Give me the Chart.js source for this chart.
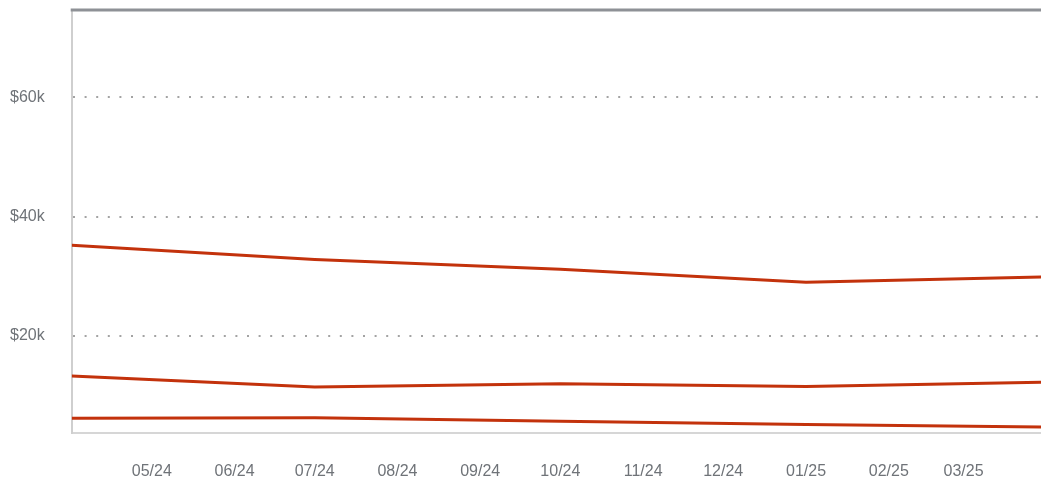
<!DOCTYPE html>
<html lang="en">
<head>
    <meta charset="UTF-8">
    <title>Quarterly values</title>
    <script src="https://cdn.jsdelivr.net/npm/chart.js"></script>
    <style>
        body { margin: 0; background: #fff; }
        #wrap { width: 1041px; height: 481px; }
    </style>
</head>
<body>
    <div id="wrap"><canvas id="lineChart" width="1041" height="481"></canvas></div>

    <script>
        // quarterly points (last one sits just past the visible edge)
        const dates = ['2024-04-01', '2024-07-01', '2024-10-01', '2025-01-01', '2025-04-01'];
        const seriesA = [35200, 32800, 31200, 29000, 29900];
        const seriesB = [13300, 11450, 12000, 11550, 12300];
        const seriesC = [6250, 6300, 5750, 5200, 4750];

        const xTicks = ['2024-05-01', '2024-06-01', '2024-07-01', '2024-08-01', '2024-09-01', '2024-10-01',
                        '2024-11-01', '2024-12-01', '2025-01-01', '2025-02-01', '2025-03-01'];
        const yTicks = [20000, 40000, 60000];

        const xMin = '2024-04-01';
        const xMax = '2025-03-30';
        const yMin = 3800;
        const yMax = 74600;

        function dayNum(s) {
            const p = s.split('-');
            return Date.UTC(+p[0], +p[1] - 1, +p[2]) / 86400000;
        }

        function monthLabel(d) {
            const dt = new Date(d * 86400000);
            const m = String(dt.getUTCMonth() + 1).padStart(2, '0');
            const y = String(dt.getUTCFullYear()).slice(2);
            return m + '/' + y;
        }

        function toPoints(values) {
            return values.map((v, i) => ({ x: dayNum(dates[i]), y: v }));
        }

        const lineColor = '#c3320c';
        const textColor = '#6f7378';

        // thick grey line along the top of the plot area
        const topBorder = {
            id: 'topBorder',
            afterDraw(chart) {
                const a = chart.chartArea;
                const ctx = chart.ctx;
                ctx.save();
                ctx.fillStyle = '#8e9196';
                ctx.fillRect(a.left - 1, a.top - 1.5, a.right - a.left + 1, 3);
                ctx.restore();
            }
        };

        const mkSet = (values) => ({
            data: toPoints(values),
            borderColor: lineColor,
            borderWidth: 3,
            pointRadius: 0,
            tension: 0,
            fill: false
        });

        var ctx = document.getElementById('lineChart').getContext('2d');
        var chart = new Chart(ctx, {
            type: 'line',
            data: {
                datasets: [mkSet(seriesA), mkSet(seriesB), mkSet(seriesC)]
            },
            options: {
                responsive: false,
                animation: false,
                layout: { padding: { top: 10, left: 10, right: 0, bottom: 0 } },
                plugins: {
                    legend: { display: false },
                    tooltip: { enabled: false }
                },
                scales: {
                    x: {
                        type: 'linear',
                        min: dayNum(xMin),
                        max: dayNum(xMax),
                        afterBuildTicks: (axis) => {
                            axis.ticks = xTicks.map(d => ({ value: dayNum(d) }));
                        },
                        // invisible tick marks give the gap under the axis
                        grid: { drawOnChartArea: false, drawTicks: true, tickLength: 29, tickColor: 'rgba(0,0,0,0)' },
                        border: { display: true, color: '#d6d6d6', width: 2 },
                        ticks: {
                            padding: 0,
                            maxRotation: 0,
                            autoSkip: false,
                            color: textColor,
                            font: { family: 'Liberation Sans, Arial, sans-serif', size: 16 },
                            callback: (v) => monthLabel(v)
                        }
                    },
                    y: {
                        min: yMin,
                        max: yMax,
                        afterBuildTicks: (axis) => {
                            axis.ticks = yTicks.map(v => ({ value: v }));
                        },
                        grid: { color: '#a3a3a3', lineWidth: 2, drawTicks: true, tickLength: 27, tickColor: 'rgba(0,0,0,0)' },
                        border: { display: true, color: '#cfcfcf', width: 2, dash: [2, 9.6] },
                        ticks: {
                            padding: 0,
                            color: textColor,
                            font: { family: 'Liberation Sans, Arial, sans-serif', size: 16 },
                            callback: (v) => '$' + (v / 1000) + 'k'
                        }
                    }
                }
            },
            plugins: [topBorder]
        });
    </script>
</body>
</html>
